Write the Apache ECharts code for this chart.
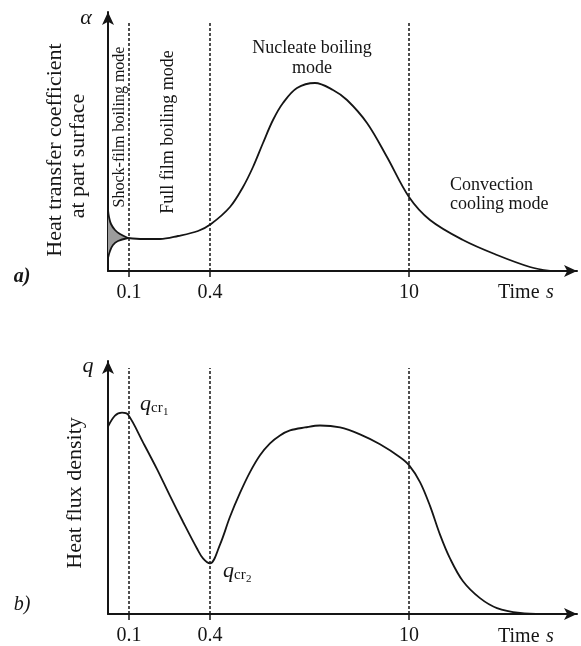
<!DOCTYPE html>
<html>
<head>
<meta charset="utf-8">
<script src="https://cdn.jsdelivr.net/npm/echarts@6/dist/echarts.min.js"></script>
<style>
  html, body { margin: 0; padding: 0; background: #fff; }
  #chart { width: 581px; height: 646px; }
</style>
</head>
<body>
<div id="chart"></div>
<script>
// schematic time axis: positions of the marked instants and their labels
const timeTicks = [21, 102, 301];
const timeLabels = ["0.1", "0.4", "10"];

// a) heat transfer coefficient (arbitrary units)
const shockUpper = [[0, 61], [1, 54], [3, 47], [7, 41], [12, 37], [20, 33]];
const shockLower = [[0, 13], [2, 20], [5, 26], [10, 30], [20, 33]];
const alphaCurve = [
  [20, 33], [35, 32], [52, 32], [70, 35], [90, 40], [103, 47], [122, 64],
  [135, 84], [145, 104], [155, 128], [165, 151], [175, 168], [189, 183],
  [207, 188], [225, 181], [239, 171], [259, 148], [279, 114], [301, 74],
  [322, 51], [355, 31], [389, 16], [422, 4], [442, 0]
];

// b) heat flux density (arbitrary units)
const fluxCurve = [
  [0, 189], [7, 200], [14, 203], [20, 201], [35, 173], [49, 146], [62, 119],
  [75, 93], [89, 66], [95, 56], [102, 51], [112, 70], [122, 98], [132, 122],
  [142, 143], [152, 160], [162, 172], [172, 180], [182, 185], [197, 188],
  [212, 190], [232, 188], [252, 181], [272, 171], [292, 158], [301, 150],
  [312, 133], [322, 109], [332, 80], [342, 56], [355, 33], [372, 16],
  [389, 6], [412, 1], [435, 0]
];

const serif = "Liberation Serif";
const ink = "#151515";

function xAxisFor(gridIndex) {
  return {
    type: "value",
    gridIndex: gridIndex,
    min: 0,
    max: 469,
    splitLine: { show: false },
    axisLine: {
      onZero: false,
      symbol: ["none", "arrow"],
      symbolSize: [9, 13],
      lineStyle: { color: ink, width: 2 }
    },
    axisTick: {
      customValues: timeTicks,
      length: 6,
      lineStyle: { color: ink, width: 1.5 }
    },
    axisLabel: {
      customValues: timeTicks,
      margin: 12,
      color: ink,
      fontFamily: serif,
      fontSize: 20,
      formatter: v => timeLabels[timeTicks.indexOf(v)]
    }
  };
}

function yAxisFor(gridIndex, max) {
  return {
    type: "value",
    gridIndex: gridIndex,
    min: 0,
    max: max,
    splitLine: { show: false },
    axisTick: { show: false },
    axisLabel: { show: false },
    axisLine: {
      show: true,
      symbol: ["none", "arrow"],
      symbolSize: [9, 13],
      lineStyle: { color: ink, width: 2 }
    }
  };
}

function dashes() {
  return {
    silent: true,
    symbol: ["none", "none"],
    label: { show: false },
    animation: false,
    lineStyle: { color: ink, type: [3, 2], width: 1.5 },
    data: timeTicks.map(x => [{ coord: [x, 0] }, { coord: [x, 248] }])
  };
}

function curve(data, xi, yi, extra) {
  return Object.assign({
    type: "line",
    xAxisIndex: xi,
    yAxisIndex: yi,
    data: data,
    smooth: 0.35,
    showSymbol: false,
    lineStyle: { color: ink, width: 1.8 },
    z: 3
  }, extra || {});
}

function txt(text, x, y, size, opts) {
  opts = opts || {};
  return {
    type: "text",
    x: x,
    y: y,
    rotation: opts.rot ? Math.PI / 2 : 0,
    style: {
      text: text,
      x: 0,
      y: 0,
      fill: ink,
      font: (opts.style || "") + " " + size + "px " + serif,
      textAlign: opts.align || "center",
      textVerticalAlign: "middle"
    }
  };
}

const chart = echarts.init(document.getElementById("chart"));
chart.setOption({
  animation: false,
  grid: [
    { left: 108, top: 12, width: 469, height: 259 },
    { left: 108, top: 361, width: 469, height: 255 }
  ],
  xAxis: [xAxisFor(0), xAxisFor(1)],
  yAxis: [yAxisFor(0, 259), yAxisFor(1, 255)],
  series: [
    {
      type: "custom",
      xAxisIndex: 0,
      yAxisIndex: 0,
      data: [[0, 0]],
      z: 2,
      renderItem: (params, api) => {
        const pts = shockUpper.concat(shockLower.slice().reverse()).map(p => api.coord(p));
        return { type: "polygon", shape: { points: pts }, style: { fill: "#9c9c9c" } };
      }
    },
    curve(shockUpper, 0, 0),
    curve(shockLower, 0, 0),
    curve(alphaCurve, 0, 0, { markLine: dashes() }),
    curve(fluxCurve, 1, 1, { markLine: dashes() })
  ],
  graphic: [
    // panel a)
    txt("\u03b1", 86, 18, 22, { style: "italic" }),
    txt("Heat transfer coefficient", 55, 150, 22, { rot: true }),
    txt("at part surface", 78, 156, 22, { rot: true }),
    txt("a)", 22, 277, 20, { style: "italic bold" }),
    txt("Shock-film boiling mode", 120, 127, 16, { rot: true }),
    txt("Full film boiling mode", 168, 132, 18, { rot: true }),
    txt("Nucleate boiling", 312, 48, 18),
    txt("mode", 312, 68, 18),
    txt("Convection", 450, 185, 18, { align: "left" }),
    txt("cooling mode", 450, 204, 18, { align: "left" }),
    txt("Time", 498, 293, 20, { align: "left" }),
    txt("s", 546, 293, 20, { align: "left", style: "italic" }),
    // panel b)
    txt("q", 88, 366, 22, { style: "italic" }),
    txt("Heat flux density", 75, 493, 22, { rot: true }),
    txt("b)", 22, 605, 20, { style: "italic" }),
    txt("q", 140, 404, 22, { align: "left", style: "italic" }),
    txt("cr", 151, 408, 15, { align: "left" }),
    txt("1", 163, 412, 11, { align: "left" }),
    txt("q", 223, 571, 22, { align: "left", style: "italic" }),
    txt("cr", 234, 575, 15, { align: "left" }),
    txt("2", 246, 579, 11, { align: "left" }),
    txt("Time", 498, 637, 20, { align: "left" }),
    txt("s", 546, 637, 20, { align: "left", style: "italic" })
  ]
});
</script>
</body>
</html>
